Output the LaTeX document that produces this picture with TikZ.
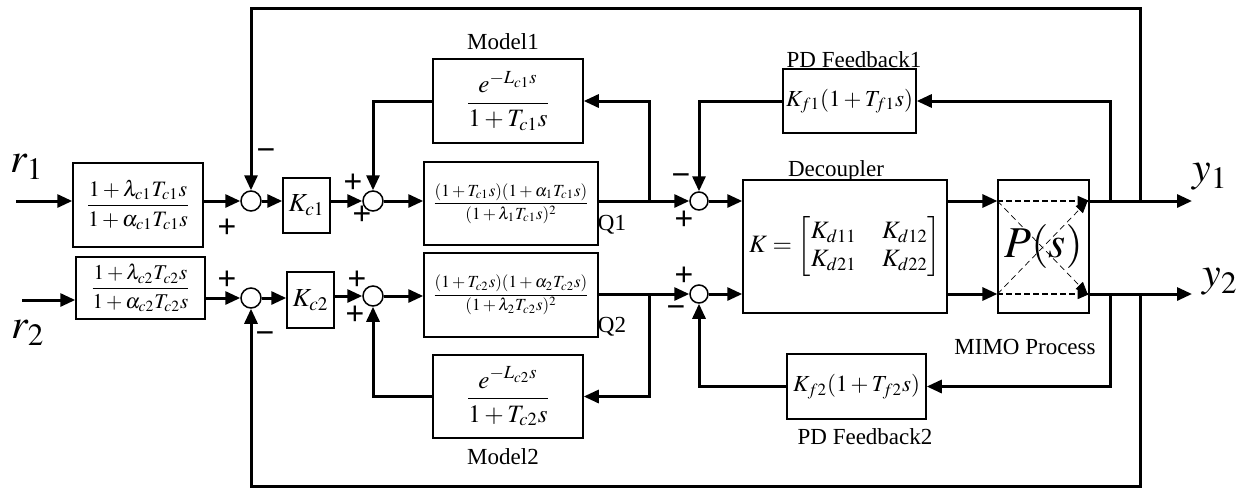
\documentclass[tikz,border=0pt]{standalone}
\usepackage{amsmath}
\usepackage{mathptmx}
\usepackage{fontspec}
\setmainfont{Liberation Serif}
\newfontfamily\signfont{Liberation Sans}
\usetikzlibrary{arrows.meta}
\tikzset{
  blk/.style={draw, rectangle, line width=0.75pt, inner sep=0pt},
  sumc/.style={draw, circle, line width=0.75pt, minimum size=10pt, inner sep=0pt},
  con/.style={line width=1.5pt, -{Triangle[length=7.5pt,width=6.5pt]}},
  txt/.style={font=\fontsize{11.5}{13}\selectfont, inner sep=0pt},
  sgn/.style={font=\signfont\fontsize{16}{16}\selectfont, inner sep=0pt},
  big/.style={font=\fontsize{21}{24}\selectfont, inner sep=0pt},
  dsh/.style={line width=0.8pt, dash pattern=on 3pt off 1.5pt, -{Triangle[length=6pt,width=5pt]}},
  dg/.style={line width=0.35pt, dash pattern=on 3pt off 2pt, -{Triangle[length=6pt,width=5pt]}},
}
\begin{document}
\begin{tikzpicture}[x=0.5pt,y=-0.5pt]
\useasboundingbox (0,0) rectangle (1252,488);
% coordinates
\coordinate (top) at (0,8);
\coordinate (bot) at (0,486);
\coordinate (in1) at (16,201);
\coordinate (in2) at (22,300);
\coordinate (b1) at (649,201);
\coordinate (b2) at (649,294);
\coordinate (j1i) at (1110,201);
\coordinate (j1o) at (1140,201);
\coordinate (j2i) at (1110,294);
\coordinate (j2o) at (1140,294);
\coordinate (o1) at (1192,201);
\coordinate (o2) at (1192,294);

% blocks
\node[blk, minimum width=65pt, minimum height=42pt, font=\fontsize{11}{13}\selectfont] (B1) at (138,205)
  {$\dfrac{1+\lambda_{c1}T_{c1}s}{1+\alpha_{c1}T_{c1}s}$};
\node[blk, minimum width=64.5pt, minimum height=31pt, font=\fontsize{10.5}{12}\selectfont] (B2) at (140.5,288)
  {$\dfrac{1+\lambda_{c2}T_{c2}s}{1+\alpha_{c2}T_{c2}s}$};
\node[sumc] (S1) at (251,201) {};
\node[sumc] (S2) at (251,298) {};
\node[blk, minimum width=23.5pt, minimum height=27.5pt, font=\fontsize{13}{15}\selectfont] (Kc1) at (306.5,205.5) {$K_{c1}$};
\node[blk, minimum width=23.5pt, minimum height=28pt, font=\fontsize{13}{15}\selectfont] (Kc2) at (310.5,300) {$K_{c2}$};
\node[sumc] (S1b) at (373,201) {};
\node[sumc] (S2b) at (373,296) {};
\node[blk, minimum width=87pt, minimum height=41.5pt, font=\fontsize{8.5}{10}\selectfont] (Q1) at (511,203.5)
  {$\dfrac{(1+T_{c1}s)(1+\alpha_1T_{c1}s)}{(1+\lambda_1T_{c1}s)^2}$};
\node[blk, minimum width=87pt, minimum height=42pt, font=\fontsize{8.5}{10}\selectfont] (Q2) at (511,295)
  {$\dfrac{(1+T_{c2}s)(1+\alpha_2T_{c2}s)}{(1+\lambda_2T_{c2}s)^2}$};
\node[blk, minimum width=75pt, minimum height=42pt, font=\fontsize{12.5}{14}\selectfont] (M1) at (508,101)
  {$\dfrac{e^{-L_{c1}s}}{1+T_{c1}s}$};
\node[blk, minimum width=75pt, minimum height=41.5pt, font=\fontsize{12.5}{14}\selectfont] (M2) at (508,396.5)
  {$\dfrac{e^{-L_{c2}s}}{1+T_{c2}s}$};
\node[sumc, minimum size=9pt] (S3) at (699,201) {};
\node[sumc, minimum size=9pt] (S4) at (699,294) {};
\node[blk, minimum width=66.5pt, minimum height=32pt, font=\fontsize{11.5}{13}\selectfont] (PD1) at (849.5,101)
  {$K_{f1}(1+T_{f1}s)$};
\node[blk, minimum width=69.5pt, minimum height=32.5pt, font=\fontsize{11.5}{13}\selectfont] (PD2) at (856.5,386.5)
  {$K_{f2}(1+T_{f2}s)$};
\node[blk, minimum width=102pt, minimum height=66.5pt, font=\fontsize{12.5}{14}\selectfont] (Dec) at (845,246.5)
  {$K=\begin{bmatrix}K_{d11} & \;K_{d12}\\ K_{d21} & \;K_{d22}\end{bmatrix}$};
\node[blk, line width=0.6pt, minimum width=45.5pt, minimum height=66.5pt] (P) at (1043.5,246.5) {};

% labels
\node[big] (r1) at (27,167) {$r_1$};
\node[big] (r2) at (28,333) {$r_2$};
\node[big] (y1) at (1210,177) {$y_1$};
\node[big] (y2) at (1220,282) {$y_2$};
\node[txt] (lm1) at (503,42) {Model1};
\node[txt] (lm2) at (503,457) {Model2};
\node[txt] (lq1) at (612,225) {Q1};
\node[txt] (lq2) at (612,327) {Q2};
\node[txt] (lpd1) at (854,60) {PD Feedback1};
\node[txt] (lpd2) at (865,437) {PD Feedback2};
\node[txt] (ldec) at (836,171) {Decoupler};
\node[txt] (lmimo) at (1025,347) {MIMO Process};

% signs
\node[sgn] (s1m) at (266,155) {\char"2212};
\node[sgn] (s1p) at (227,228) {+};
\node[sgn] (s2p) at (227,280) {+};
\node[sgn] (s2m) at (265,338) {\char"2212};
\node[sgn] (s1bp) at (353,183) {+};
\node[sgn] (s1bq) at (362,215) {+};
\node[sgn] (s2bp) at (357,280) {+};
\node[sgn] (s2bq) at (355,315) {+};
\node[sgn] (s3m) at (681,180) {\char"2212};
\node[sgn] (s3p) at (684,220) {+};
\node[sgn] (s4p) at (684,276) {+};
\node[sgn] (s4m) at (676,312) {\char"2212};

% forward path row 1
\draw[con] (in1) -- (in1 -| B1.west);
\draw[con] (B1.east |- S1) -- (S1.west);
\draw[con] (S1.east) -- (Kc1.west |- S1);
\draw[con] (Kc1.east |- S1b) -- (S1b.west);
\draw[con] (S1b.east) -- (Q1.west |- S1b);
\draw[con] (Q1.east |- S3) -- (S3.west);
\draw[con] (S3.east) -- (Dec.west |- S3);
\draw[con] (Dec.east |- S3) -- (P.west |- S3);
\draw[con] (P.east |- o1) -- (o1);
% forward path row 2
\draw[con] (in2) -- (in2 -| B2.west);
\draw[con] (B2.east |- S2) -- (S2.west);
\draw[con] (S2.east) -- (Kc2.west |- S2);
\draw[con] (Kc2.east |- S2b) -- (S2b.west);
\draw[con] (S2b.east) -- (Q2.west |- S2b);
\draw[con] (Q2.east |- S4) -- (S4.west);
\draw[con] (S4.east) -- (Dec.west |- S4);
\draw[con] (Dec.east |- S4) -- (P.west |- S4);
\draw[con] (P.east |- o2) -- (o2);

% model loops
\draw[con] (b1) |- (M1.east);
\draw[con] (M1.west) -| (S1b.north);
\draw[con] (b2) |- (M2.east);
\draw[con] (M2.west) -| (S2b.south);

% PD feedback
\draw[con] (j1i) -- (j1i |- PD1) -- (PD1.east);
\draw[con] (PD1.west) -| (S3.north);
\draw[con] (j2i) -- (j2i |- PD2) -- (PD2.east);
\draw[con] (PD2.west) -| (S4.south);

% outer loops
\draw[con] (j1o) -- (j1o |- top) -- (S1 |- top) -- (S1.north);
\draw[con] (j2o) -- (j2o |- bot) -- (S2 |- bot) -- (S2.south);

% inside P(s)
\draw[dsh] (P.west |- S3) -- (P.east |- S3);
\draw[dsh] (P.west |- S4) -- (P.east |- S4);
\draw[dg] (P.west |- S3) -- ([xshift=-1pt]P.east |- S4);
\draw[dg] (P.west |- S4) -- ([xshift=-1pt]P.east |- S3);
\node[font=\fontsize{22}{24}\selectfont, inner sep=0pt] (Ps) at (P.center) {$P(s)$};
\end{tikzpicture}
\end{document}
